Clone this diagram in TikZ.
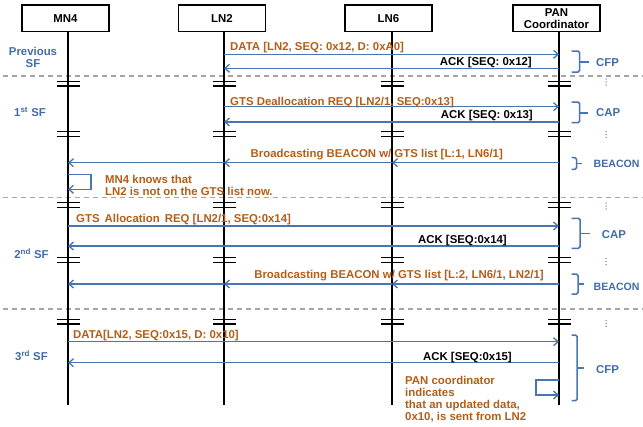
\documentclass[tikz,border=0pt]{standalone}
\usepackage{fontspec}
\setmainfont{Liberation Sans}
\usetikzlibrary{arrows.meta}
\definecolor{msgblue}{RGB}{72,117,180}
\definecolor{lblorange}{RGB}{180,94,24}
\definecolor{sideblue}{RGB}{66,108,168}
\definecolor{dashgray}{RGB}{165,165,165}
\begin{document}
\begin{tikzpicture}[x=1pt,y=-1pt,
  every node/.style={inner sep=0pt, font=\bfseries\fontsize{11.4}{12}\selectfont},
  actor/.style={draw, line width=1.6pt, minimum width=87pt, minimum height=26.5pt, align=center},
  life/.style={line width=1.3pt},
  brkmark/.style={line width=1.2pt},
  msg/.style={draw=msgblue, line width=1.3pt, -{Straight Barb[length=4.5pt,width=8pt,line width=1.3pt]}},
  olab/.style={text=lblorange, anchor=base west},
  klab/.style={text=black, anchor=base east},
  side/.style={text=sideblue, align=center},
  phase/.style={text=sideblue, anchor=base west},
  sfline/.style={draw=dashgray, line width=1.2pt, dash pattern=on 5pt off 4pt},
  bracket/.style={draw=msgblue, line width=1.5pt, rounded corners=1.5pt},
  vdots/.style={fill=sideblue!80},
]
\useasboundingbox (0,0) rectangle (643,426);
\fill[white] (0,0) rectangle (643,426);

% superframe separators
\foreach \y in {76,197.7,309} \draw[sfline] (3,\y) -- (643,\y);

% actors
\node[actor] (mn4) at (65.5,18.3) {MN4};
\node[actor] (ln2) at (222,18.3) {LN2};
\node[actor] (ln6) at (388.5,18.3) {LN6};
\node[actor] (pan) at (556.5,18.3) {PAN\\Coordinator};

% lifelines
\foreach \n/\x in {mn/68, lnb/224, lnf/392, pn/559} {
  \coordinate (\n T) at (\x,31.5);
  \coordinate (\n B) at (\x,405);
  \draw[life] (\n T) -- (\n B);
  \foreach \ya/\yb in {81.5/86, 131.5/136.5, 202.7/207.7, 257.7/262.7, 319.3/324} {
    \draw[brkmark] (\x-11.5,\ya) -- (\x+11.5,\ya);
    \draw[brkmark] (\x-11.5,\yb) -- (\x+11.5,\yb);
  }
}

% side labels
\node[side, anchor=north] (prev) at (33,47) {Previous\\SF};
\node[side, anchor=base] (sf1) at (30,116.7) {1\textsuperscript{st} SF};
\node[side, anchor=base] (sf2) at (31.5,258.3) {2\textsuperscript{nd} SF};
\node[side, anchor=base] (sf3) at (31.5,360.5) {3\textsuperscript{rd} SF};

% message endpoints
\coordinate (m1s) at (224,54.3);  \coordinate (m1e) at (559,54.3);
\coordinate (m2s) at (559,68.3);  \coordinate (m2e) at (224,68.3);
\coordinate (m3s) at (224,106.7); \coordinate (m3e) at (559,106.7);
\coordinate (m4s) at (559,122);   \coordinate (m4e) at (224,122);
\coordinate (b1p) at (559,162.7); \coordinate (b1f) at (392,162.7);
\coordinate (b1b) at (224,162.7); \coordinate (b1m) at (68,162.7);
\coordinate (l1a) at (68,174.3);  \coordinate (l1b) at (91,174.3);
\coordinate (l1c) at (91,189.3);  \coordinate (l1d) at (68,189.3);
\coordinate (m5s) at (68,226);    \coordinate (m5e) at (559,226);
\coordinate (m6s) at (559,246);   \coordinate (m6e) at (68,246);
\coordinate (b2p) at (559,284);   \coordinate (b2f) at (392,284);
\coordinate (b2b) at (224,284);   \coordinate (b2m) at (68,284);
\coordinate (m7s) at (68,341.7);  \coordinate (m7e) at (559,341.7);
\coordinate (m8s) at (559,362.7); \coordinate (m8e) at (68,362.7);
\coordinate (l2a) at (559,380);   \coordinate (l2b) at (536,380);
\coordinate (l2c) at (536,395);   \coordinate (l2d) at (559,395);

% messages
\draw[msg] (m1s) -- (m1e);
\draw[msg] (m2s) -- (m2e);
\draw[msg] (m3s) -- (m3e);
\draw[msg] (m4s) -- (m4e);
\draw[msg] (b1p) -- (b1f);
\draw[msg] (b1f) -- (b1b);
\draw[msg] (b1b) -- (b1m);
\draw[msg] (l1a) -- (l1b) -- (l1c) -- (l1d);
\draw[msg] (m5s) -- (m5e);
\draw[msg] (m6s) -- (m6e);
\draw[msg] (b2p) -- (b2f);
\draw[msg] (b2f) -- (b2b);
\draw[msg] (b2b) -- (b2m);
\draw[msg] (m7s) -- (m7e);
\draw[msg] (m8s) -- (m8e);
\draw[msg] (l2a) -- (l2b) -- (l2c) -- (l2d);

% message labels
\node[olab] (t1) at (230,50) {DATA [LN2, SEQ: 0x12, D: 0xA0]};
\node[klab] (t2) at (532,65) {ACK [SEQ: 0x12]};
\node[olab] (t3) at (230,105) {GTS Deallocation REQ [LN2/1, SEQ:0x13]};
\node[klab] (t4) at (533,118) {ACK [SEQ: 0x13]};
\node[text=lblorange, anchor=base east] (t5) at (503,157) {Broadcasting BEACON w/ GTS list [L:1, LN6/1]};
\node[text=lblorange, anchor=north west, align=left] (t6) at (105,174.8) {MN4 knows that\\LN2 is not on the GTS list now.};
\node[olab] (t7) at (76,222.5) {GTS \,Allocation \,REQ [LN2/1, SEQ:0x14]};
\node[klab] (t8) at (507,243) {ACK [SEQ:0x14]};
\node[text=lblorange, anchor=base east] (t9) at (544,278) {Broadcasting BEACON w/ GTS list [L:2, LN6/1, LN2/1]};
\node[olab] (t10) at (73,338) {DATA[LN2, SEQ:0x15, D: 0x10]};
\node[klab] (t11) at (512,360.5) {ACK [SEQ:0x15]};
\node[text=lblorange, anchor=north west, align=left] (t12) at (405,375.8) {PAN coordinator\\indicates\\that an updated data,\\0x10, is sent from LN2};

% phase brackets
\draw[bracket] (571.5,51) -- (579.5,51) -- (579.5,72) -- (571.5,72);
\draw[bracket] (579.5,62) -- (589,62);
\node[phase] (p1) at (596,66.5) {CFP};
\draw[bracket] (571.5,102) -- (579.5,102) -- (579.5,122.7) -- (571.5,122.7);
\draw[bracket] (579.5,113) -- (588,113);
\node[phase] (p2) at (596,116.7) {CAP};
\draw[bracket] (571.5,157.7) -- (576.5,157.7) -- (576.5,169.3) -- (571.5,169.3);
\draw[bracket] (576.5,163.5) -- (582,163.5);
\node[phase, font=\bfseries\fontsize{10.6}{12}\selectfont] (p3) at (593.5,167.5) {BEACON};
\draw[bracket] (571.5,218.3) -- (580,218.3) -- (580,248.3) -- (571.5,248.3);
\draw[bracket] (580,233.3) -- (590,233.3);
\node[phase] (p4) at (601.7,238.3) {CAP};
\draw[bracket] (571.5,274) -- (578,274) -- (578,294) -- (571.5,294);
\draw[bracket] (578,284) -- (583.5,284);
\node[phase, font=\bfseries\fontsize{10.6}{12}\selectfont] (p5) at (593.5,290) {BEACON};
\draw[bracket] (571.5,335) -- (577,335) -- (577,400.7) -- (571.5,400.7);
\draw[bracket] (577,367.8) -- (584,367.8);
\node[phase] (p6) at (596,373.3) {CFP};

% vertical ellipses
\foreach \y in {79,131.5,203,258.5,320.5} {
  \foreach \d in {0,3,6} \fill[vdots] (606,\y+\d) circle (0.75pt);
}
\end{tikzpicture}
\end{document}
